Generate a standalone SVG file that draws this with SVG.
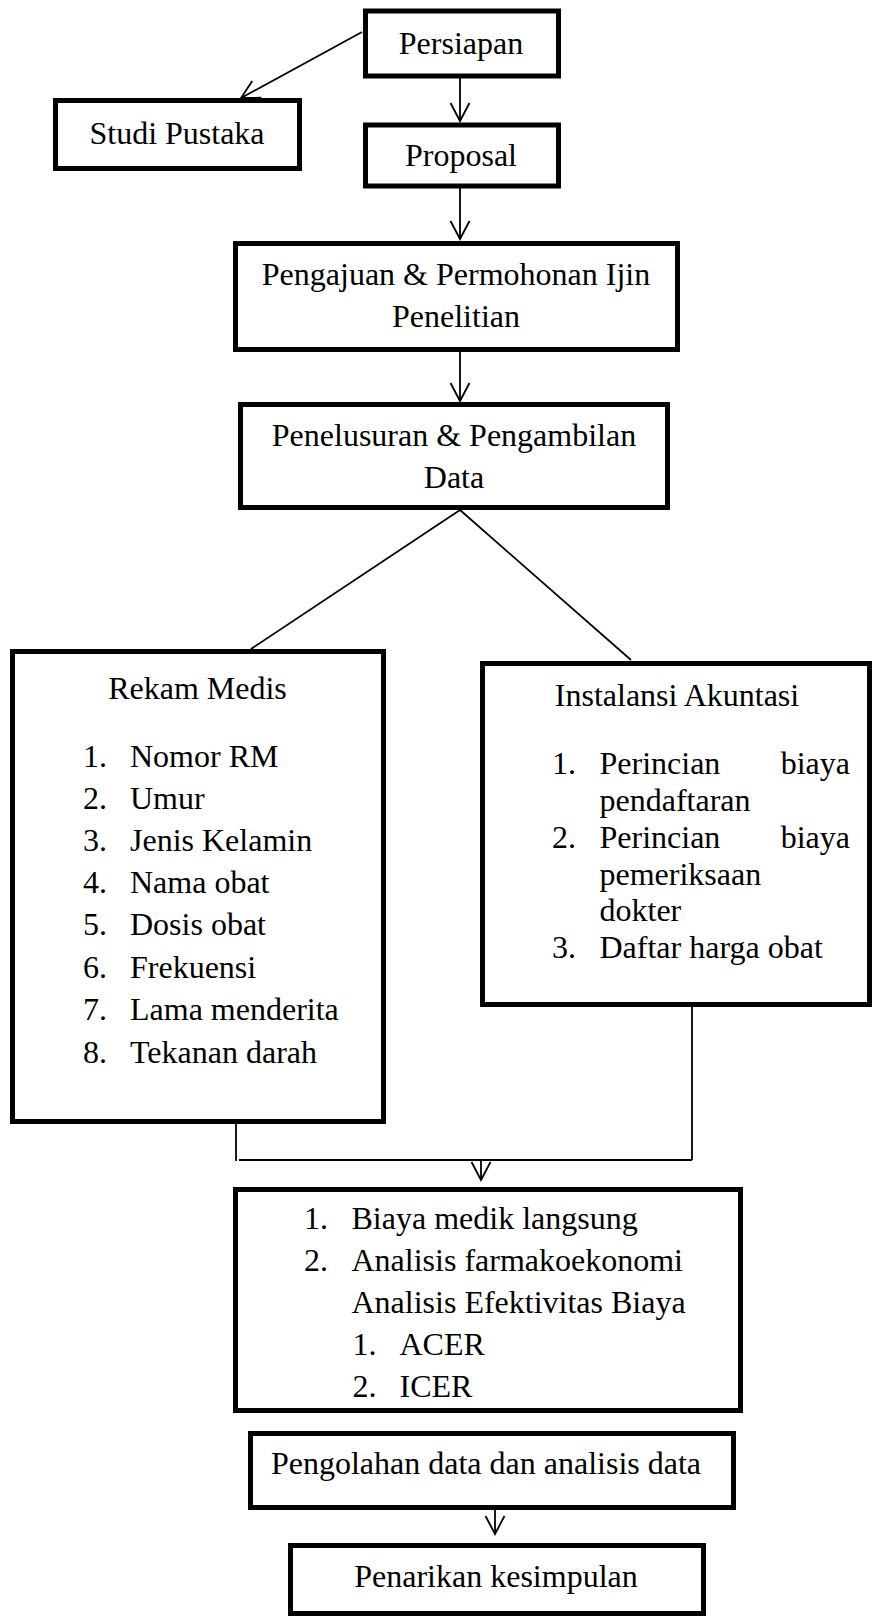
<svg xmlns="http://www.w3.org/2000/svg" width="875" height="1619" viewBox="0 0 875 1619">
<style>
.box{fill:#fff;stroke:#000;stroke-width:5}
.t{font-family:"Liberation Serif","Times New Roman",serif;font-size:32px;fill:#000}
.c{text-anchor:middle}
.e{text-anchor:end}
.ln{fill:none;stroke:#000;stroke-width:1.8}
</style>
<defs>
<marker id="arr" markerUnits="userSpaceOnUse" markerWidth="24" markerHeight="22" refX="20" refY="11" orient="auto" viewBox="0 0 24 22">
<path d="M2,1.5 L20,11 L2,20.5" fill="none" stroke="#000" stroke-width="1.8"/>
</marker>
</defs>
<rect width="875" height="1619" fill="#fff"/>
<g id="connectors">
<line class="ln" x1="362" y1="32" x2="241" y2="98" marker-end="url(#arr)"/>
<line class="ln" x1="460" y1="78" x2="460" y2="121" marker-end="url(#arr)"/>
<line class="ln" x1="460" y1="188" x2="460" y2="239" marker-end="url(#arr)"/>
<line class="ln" x1="460" y1="352" x2="460" y2="401" marker-end="url(#arr)"/>
<line class="ln" x1="460" y1="510" x2="251" y2="649"/>
<line class="ln" x1="460" y1="510" x2="631" y2="660"/>
<line class="ln" x1="236" y1="1124" x2="236" y2="1161"/>
<line class="ln" x1="239" y1="1160" x2="692" y2="1160"/>
<line class="ln" x1="692" y1="1007" x2="692" y2="1160"/>
<line class="ln" x1="481" y1="1160" x2="481" y2="1180" marker-end="url(#arr)"/>
<line class="ln" x1="495" y1="1510" x2="495" y2="1534" marker-end="url(#arr)"/>
</g>
<g id="persiapan">
<rect class="box" x="365.5" y="11" width="193" height="65"/>
<text class="t c" x="461" y="54">Persiapan</text>
</g>
<g id="studi-pustaka">
<rect class="box" x="55.5" y="100.5" width="244" height="68"/>
<text class="t c" x="177" y="144">Studi Pustaka</text>
</g>
<g id="proposal">
<rect class="box" x="365.5" y="125" width="193" height="61"/>
<text class="t c" x="461" y="166">Proposal</text>
</g>
<g id="pengajuan">
<rect class="box" x="235.5" y="243.5" width="442" height="106"/>
<text class="t c" x="456" y="285">Pengajuan &amp; Permohonan Ijin</text>
<text class="t c" x="456" y="327">Penelitian</text>
</g>
<g id="penelusuran">
<rect class="box" x="240.5" y="404.5" width="427" height="103"/>
<text class="t c" x="454" y="446">Penelusuran &amp; Pengambilan</text>
<text class="t c" x="454" y="488">Data</text>
</g>
<g id="rekam-medis">
<rect class="box" x="12.5" y="651.5" width="371" height="470"/>
<text class="t c" x="197.5" y="699">Rekam Medis</text>
<text class="t" x="83" y="767">1.</text><text class="t" x="130" y="767">Nomor RM</text>
<text class="t" x="83" y="809">2.</text><text class="t" x="130" y="809">Umur</text>
<text class="t" x="83" y="851">3.</text><text class="t" x="130" y="851">Jenis Kelamin</text>
<text class="t" x="83" y="893">4.</text><text class="t" x="130" y="893">Nama obat</text>
<text class="t" x="83" y="935">5.</text><text class="t" x="130" y="935">Dosis obat</text>
<text class="t" x="83" y="978">6.</text><text class="t" x="130" y="978">Frekuensi</text>
<text class="t" x="83" y="1020">7.</text><text class="t" x="130" y="1020">Lama menderita</text>
<text class="t" x="83" y="1063">8.</text><text class="t" x="130" y="1063">Tekanan darah</text>
</g>
<g id="instalansi-akuntasi">
<rect class="box" x="482.5" y="663.5" width="387" height="341"/>
<text class="t c" x="677" y="706">Instalansi Akuntasi</text>
<text class="t" x="552" y="774">1.</text><text class="t" x="599.5" y="774">Perincian</text><text class="t e" x="850" y="774">biaya</text>
<text class="t" x="599.5" y="811">pendaftaran</text>
<text class="t" x="552" y="848">2.</text><text class="t" x="599.5" y="848">Perincian</text><text class="t e" x="850" y="848">biaya</text>
<text class="t" x="599.5" y="885">pemeriksaan</text>
<text class="t" x="599.5" y="921">dokter</text>
<text class="t" x="552" y="958">3.</text><text class="t" x="599.5" y="958">Daftar harga obat</text>
</g>
<g id="biaya">
<rect class="box" x="235.5" y="1189.5" width="505" height="221"/>
<text class="t" x="304" y="1229">1.</text><text class="t" x="351.5" y="1229">Biaya medik langsung</text>
<text class="t" x="304" y="1271">2.</text><text class="t" x="351.5" y="1271">Analisis farmakoekonomi</text>
<text class="t" x="351.5" y="1313">Analisis Efektivitas Biaya</text>
<text class="t" x="352.5" y="1355">1.</text><text class="t" x="399.5" y="1355">ACER</text>
<text class="t" x="352.5" y="1397">2.</text><text class="t" x="399.5" y="1397">ICER</text>
</g>
<g id="pengolahan">
<rect class="box" x="250.5" y="1433.5" width="483" height="74"/>
<text class="t c" x="486" y="1474">Pengolahan data dan analisis data</text>
</g>
<g id="penarikan">
<rect class="box" x="290.5" y="1545.5" width="413" height="68"/>
<text class="t c" x="496" y="1587">Penarikan kesimpulan</text>
</g>
</svg>
